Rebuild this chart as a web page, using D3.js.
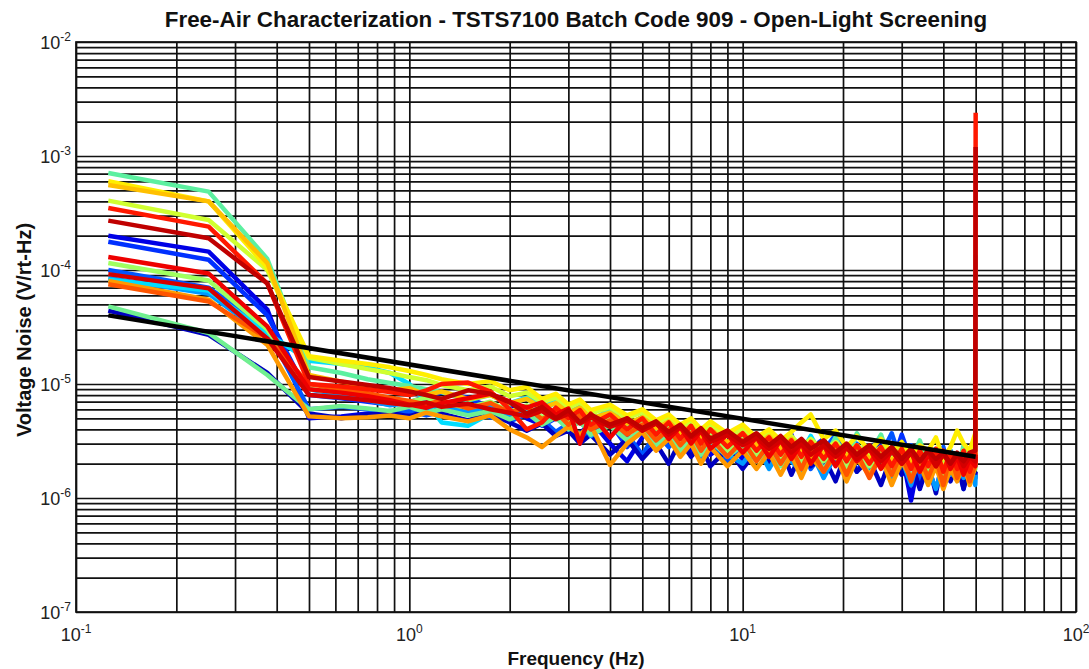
<!DOCTYPE html>
<html>
<head>
<meta charset="utf-8">
<script src="https://cdn.jsdelivr.net/npm/d3@7"></script>
<style>
  body { margin: 0; background: #fff; }
  svg { display: block; font-family: "Liberation Sans", Arial, sans-serif; }
</style>
</head>
<body>
<div id="chart"></div>
<script>
// frequency bins (Hz)
const freqHz = [0.125, 0.25, 0.375, 0.5, 0.625, 0.75, 0.875, 1, 1.125, 1.25, 1.5, 1.75,
  2, 2.25, 2.5, 2.75, 3, 3.25, 3.5, 4, 4.5, 5, 5.5, 6, 6.5, 7, 7.5, 8, 9, 10, 11, 12,
  13, 14, 15, 16, 17.5, 19, 20.5, 22, 24, 26, 28, 30, 32, 34, 36, 38, 40, 42, 44, 46,
  48, 49.875, 50];

// voltage noise per device, in uV/rt-Hz
const dev01 = [200, 145, 45, 5, 5.2, 5.5, 5.8, 5.6, 6.0, 6.4, 5.9, 5.2, 6.8, 5.0, 4.4, 5.6, 4.1, 3.6, 4.8, 3.0, 2.1, 3.4, 4.6, 2.9, 3.8, 2.6, 3.4, 2.4, 3.1, 2.2, 3.3, 2.0, 2.9, 3.6, 2.1, 2.8, 1.9, 2.6, 1.6, 2.7, 2.0, 3.1, 1.8, 2.5, 0.95, 2.4, 1.5, 2.2, 1.7, 2.6, 1.6, 2.3, 1.4, 2.0, 2.2];
const dev02 = [177, 123, 40, 8, 7.5, 7.0, 6.6, 6.9, 7.8, 8.4, 7.6, 6.2, 5.4, 6.1, 4.3, 5.0, 4.4, 5.3, 3.9, 4.6, 2.8, 4.2, 3.3, 4.5, 2.7, 3.6, 2.5, 3.9, 2.6, 3.2, 2.3, 3.5, 2.2, 3.0, 1.9, 2.7, 3.3, 2.0, 2.9, 1.7, 2.6, 3.4, 1.9, 3.6, 2.1, 2.8, 1.6, 2.5, 1.3, 2.4, 1.9, 2.7, 1.5, 2.1, 2.4];
const dev03 = [100, 70, 30, 6, 6.3, 6.0, 5.5, 5.8, 5.3, 5.7, 6.2, 5.1, 4.7, 5.4, 4.9, 3.8, 4.5, 3.3, 4.1, 6.6, 3.6, 2.4, 3.7, 2.8, 3.5, 4.2, 2.6, 3.3, 2.1, 3.0, 2.7, 1.9, 3.4, 2.4, 3.1, 1.8, 2.6, 3.6, 2.2, 3.0, 1.7, 2.4, 3.7, 2.0, 2.9, 1.4, 2.5, 1.8, 2.8, 1.5, 2.3, 1.2, 2.6, 1.9, 2.0];
const dev04 = [44, 27, 12.5, 5.5, 5.0, 5.4, 5.6, 5.2, 5.8, 5.5, 4.8, 5.6, 4.6, 3.9, 4.5, 3.5, 3.9, 3.0, 3.6, 2.4, 3.3, 2.2, 3.0, 2.0, 3.2, 2.3, 2.9, 1.9, 2.7, 1.8, 2.6, 2.0, 2.8, 1.6, 2.5, 1.9, 2.3, 1.4, 2.6, 1.7, 2.2, 1.3, 2.4, 1.6, 2.1, 1.2, 2.0, 1.1, 2.3, 1.4, 2.0, 1.2, 1.9, 1.5, 1.7];
const dev05 = [85, 62, 26, 9, 8.0, 7.2, 6.5, 6.8, 6.0, 6.6, 5.7, 6.4, 5.2, 5.9, 4.6, 5.3, 4.0, 4.8, 3.5, 4.4, 3.2, 3.9, 2.7, 3.6, 2.5, 3.4, 2.3, 3.1, 2.4, 2.0, 2.9, 1.8, 2.7, 2.1, 1.7, 2.6, 1.5, 2.4, 1.9, 2.8, 1.6, 2.3, 1.4, 2.2, 1.3, 2.5, 1.8, 1.2, 2.1, 1.6, 2.4, 1.5, 1.9, 1.3, 1.6];
const dev06 = [82, 66, 28, 16, 15, 14, 12.5, 10, 7.0, 4.6, 4.3, 5.5, 6.8, 7.6, 6.4, 7.0, 5.6, 6.3, 5.0, 5.6, 4.3, 5.1, 3.9, 4.6, 3.6, 4.3, 3.3, 4.0, 3.0, 3.7, 2.6, 3.4, 2.3, 3.1, 2.5, 3.5, 2.2, 2.9, 2.0, 2.7, 1.9, 2.6, 1.8, 2.8, 2.0, 2.5, 1.7, 2.4, 1.9, 2.6, 1.6, 2.3, 2.0, 2.6, 135];
const dev07 = [710, 487, 125, 14, 12.5, 11.0, 10.2, 9.6, 9.0, 8.5, 7.2, 8.0, 6.6, 7.5, 5.8, 6.9, 5.4, 6.2, 4.8, 5.9, 4.3, 5.2, 3.8, 4.8, 3.5, 4.4, 3.1, 4.0, 2.9, 3.8, 2.7, 3.5, 2.5, 3.3, 2.3, 3.0, 2.2, 3.4, 2.0, 3.7, 2.4, 3.6, 1.9, 2.8, 2.2, 3.2, 2.0, 2.7, 1.8, 2.5, 1.7, 2.9, 2.1, 3.3, 4.5];
const dev08 = [48, 28, 12, 6, 6.4, 6.1, 5.8, 6.3, 5.6, 6.0, 5.3, 5.8, 4.9, 5.6, 4.4, 5.1, 4.0, 4.7, 3.6, 4.3, 3.2, 4.0, 2.9, 3.6, 2.6, 3.4, 2.4, 3.2, 2.3, 2.9, 2.1, 2.8, 1.9, 2.6, 2.0, 2.7, 1.8, 2.5, 1.7, 2.4, 1.6, 2.3, 1.9, 2.6, 1.5, 2.2, 1.7, 2.4, 1.4, 2.1, 1.6, 2.3, 1.5, 1.8, 2.1];
const dev09 = [115, 81, 30, 9, 8.5, 8.0, 7.4, 7.0, 7.6, 6.8, 6.2, 7.0, 5.7, 6.5, 5.1, 5.9, 4.6, 5.5, 4.2, 5.0, 3.7, 4.6, 3.4, 4.2, 3.0, 3.9, 2.8, 3.6, 2.6, 3.3, 2.4, 3.1, 2.2, 2.9, 2.0, 2.7, 2.1, 2.8, 1.8, 2.6, 1.9, 2.5, 1.7, 2.4, 1.8, 2.6, 1.6, 2.3, 1.5, 2.2, 1.7, 2.0, 1.4, 2.1, 2.3];
const dev10 = [406, 275, 100, 17, 15, 13.5, 12.5, 11.5, 10.8, 9.8, 8.8, 9.5, 7.8, 8.4, 6.9, 7.6, 6.2, 6.9, 5.5, 6.3, 5.0, 5.7, 4.5, 5.2, 4.1, 4.8, 3.8, 4.4, 3.5, 4.1, 3.2, 3.8, 3.0, 3.5, 2.8, 3.3, 2.6, 3.1, 2.5, 2.9, 2.4, 2.8, 2.2, 2.7, 2.1, 2.6, 2.0, 2.5, 1.9, 2.4, 2.0, 2.6, 1.9, 2.3, 2.5];
const dev11 = [600, 400, 105, 17.5, 16, 15, 14, 13, 12, 11, 10, 10.6, 8.8, 9.4, 7.4, 8.2, 6.6, 7.3, 5.9, 6.6, 5.3, 6.0, 4.8, 5.4, 4.4, 5.0, 4.0, 4.7, 3.7, 4.4, 3.4, 4.0, 3.2, 3.8, 4.6, 5.4, 3.3, 3.9, 2.8, 3.5, 2.6, 3.3, 2.5, 3.1, 2.3, 2.9, 2.6, 3.4, 2.2, 2.8, 3.9, 3.0, 2.6, 3.7, 3.0];
const dev12 = [557, 400, 115, 12, 10.5, 9.5, 8.8, 9.2, 8.0, 8.6, 7.4, 8.0, 6.8, 7.4, 6.2, 6.8, 5.6, 6.2, 5.0, 5.6, 4.5, 5.1, 4.1, 4.7, 3.7, 4.3, 3.4, 4.0, 3.1, 3.7, 2.9, 3.5, 2.7, 3.3, 2.5, 3.1, 2.4, 3.0, 2.3, 2.9, 2.2, 2.8, 2.1, 2.7, 2.0, 2.6, 1.9, 2.5, 1.8, 2.4, 1.7, 2.3, 1.8, 2.2, 2.4];
const dev13 = [80, 55, 22, 5.2, 5.0, 5.1, 5.3, 5.0, 5.6, 5.2, 4.7, 5.3, 4.0, 3.4, 2.8, 3.5, 4.2, 3.6, 4.4, 1.95, 3.0, 3.8, 2.6, 3.3, 2.3, 3.0, 2.0, 2.8, 1.9, 2.6, 1.8, 2.5, 1.6, 2.4, 1.5, 2.3, 1.7, 2.4, 1.4, 2.2, 1.6, 2.3, 1.3, 2.1, 1.5, 2.0, 1.3, 1.9, 1.2, 1.8, 1.4, 2.0, 1.3, 1.9, 8.7];
const dev14 = [75, 53, 25, 10, 9.0, 8.3, 7.6, 7.1, 6.6, 7.2, 6.1, 6.8, 5.6, 6.3, 4.9, 5.7, 4.4, 5.3, 4.0, 4.8, 3.6, 4.4, 3.2, 4.0, 2.9, 3.7, 2.6, 3.4, 2.3, 3.2, 2.1, 3.0, 2.0, 2.8, 1.8, 2.7, 1.7, 2.6, 1.6, 2.5, 1.5, 2.4, 1.6, 2.5, 1.4, 2.3, 1.5, 2.2, 1.3, 2.4, 1.5, 2.1, 1.4, 2.0, 2.2];
const dev15 = [350, 240, 76, 10, 9.5, 9.0, 8.5, 8.0, 8.8, 10.0, 10.3, 8.6, 6.0, 4.0, 4.6, 6.2, 5.0, 5.9, 4.4, 5.4, 4.0, 5.0, 3.6, 4.6, 3.3, 4.3, 3.0, 4.0, 2.8, 3.7, 2.6, 3.4, 2.4, 3.2, 2.3, 3.1, 2.2, 3.0, 2.1, 2.9, 2.0, 2.8, 1.9, 2.7, 1.8, 2.6, 1.9, 2.7, 1.7, 2.5, 1.8, 2.6, 1.7, 2.4, 2400];
const dev16 = [130, 93, 32, 9, 8.4, 7.8, 7.2, 6.6, 6.2, 6.8, 7.5, 8.2, 7.0, 6.2, 6.9, 5.4, 6.1, 3.0, 5.5, 3.4, 5.0, 3.9, 4.6, 3.3, 4.2, 3.0, 3.9, 2.7, 3.6, 2.5, 3.4, 2.3, 3.2, 2.2, 3.0, 2.0, 2.9, 1.9, 2.8, 2.1, 2.7, 1.8, 2.6, 2.0, 2.5, 1.7, 2.4, 1.9, 2.6, 1.8, 2.3, 1.6, 2.2, 1.9, 2.3];
const dev17 = [92, 69, 25, 8, 7.6, 7.2, 6.8, 6.5, 6.9, 6.3, 6.7, 6.0, 5.6, 5.2, 5.8, 4.9, 5.5, 4.5, 5.1, 4.2, 4.8, 3.9, 4.5, 3.6, 4.2, 3.4, 3.9, 3.1, 3.6, 2.9, 3.4, 2.7, 3.2, 2.5, 3.0, 2.4, 2.9, 2.3, 2.8, 2.2, 2.7, 2.1, 2.6, 2.0, 2.5, 2.1, 2.6, 1.9, 2.4, 2.0, 2.5, 1.9, 2.3, 2.1, 2.4];
const dev18 = [271, 190, 76, 11.5, 10.5, 9.8, 9.2, 8.6, 8.0, 7.4, 8.8, 8.2, 6.9, 5.5, 6.3, 5.0, 5.9, 4.6, 5.4, 4.4, 5.0, 4.1, 4.7, 3.8, 4.4, 3.5, 4.1, 3.3, 3.9, 3.1, 3.7, 2.9, 3.5, 2.8, 3.3, 2.7, 3.2, 2.5, 3.0, 2.4, 2.9, 2.3, 2.8, 2.2, 2.7, 2.1, 2.6, 2.2, 2.5, 2.0, 2.4, 2.1, 2.5, 2.6, 1200];

const devices = [dev01, dev02, dev03, dev04, dev05, dev06, dev07, dev08, dev09,
  dev10, dev11, dev12, dev13, dev14, dev15, dev16, dev17, dev18];
const deviceColors = ['#0000e6', '#0030ff', '#0055ff', '#0000c0', '#0099ff', '#00ddff',
  '#5cf0a0', '#70f090', '#a0ff60', '#d0ff30', '#ffee00', '#ffc000', '#ff9900',
  '#ff5500', '#ff1800', '#ee0000', '#d40000', '#c00000'];

// limit line (uV/rt-Hz)
const limitFreq = [0.125, 50];
const limitNoise = [40, 2.3];

const xDecades = [0.1, 1, 10, 100];
const yDecades = [1e-7, 1e-6, 1e-5, 1e-4, 1e-3, 1e-2];

const W = 1089, H = 669;
const margin = { top: 42, right: 13, bottom: 57, left: 76 };
const width = W - margin.left - margin.right;
const height = H - margin.top - margin.bottom;

const svg = d3.select('#chart').append('svg')
  .attr('width', W).attr('height', H);

const g = svg.append('g')
  .attr('transform', `translate(${margin.left},${margin.top})`);

const x = d3.scaleLog().domain([0.1, 100]).range([0, width]);
const y = d3.scaleLog().domain([1e-7, 1e-2]).range([height, 0]);

// grid (major + minor, all black like the original)
g.append('g')
  .attr('class', 'x-grid')
  .attr('transform', `translate(0,${height})`)
  .call(d3.axisBottom(x).ticks(10).tickSize(-height).tickFormat(''))
  .call(a => a.select('.domain').remove())
  .selectAll('line').attr('stroke', '#111').attr('stroke-width', 1.7);

g.append('g')
  .attr('class', 'y-grid')
  .call(d3.axisLeft(y).ticks(10).tickSize(-width).tickFormat(''))
  .call(a => a.select('.domain').remove())
  .selectAll('line').attr('stroke', '#111').attr('stroke-width', 1.7);

// traces
svg.append('clipPath').attr('id', 'plotclip')
  .append('rect').attr('width', width).attr('height', height);

const line = d3.line()
  .x(d => x(d[0]))
  .y(d => y(d[1] * 1e-6));

const traces = g.append('g').attr('clip-path', 'url(#plotclip)');

traces.selectAll('.trace')
  .data(devices)
  .join('path')
  .attr('class', 'trace')
  .attr('d', d => line(d3.zip(freqHz, d)))
  .attr('fill', 'none')
  .attr('stroke', (d, i) => deviceColors[i])
  .attr('stroke-width', 4.5)
  .attr('stroke-linejoin', 'round');

traces.append('path')
  .attr('d', line(d3.zip(limitFreq, limitNoise)))
  .attr('fill', 'none')
  .attr('stroke', '#000')
  .attr('stroke-width', 4.5);

// frame
g.append('rect')
  .attr('width', width).attr('height', height)
  .attr('fill', 'none').attr('stroke', '#111').attr('stroke-width', 1.7);

// tick labels with superscripts
const expOf = v => Math.round(Math.log10(v));

const xl = g.append('g').attr('class', 'x-labels')
  .selectAll('text').data(xDecades).join('text')
  .attr('x', d => x(d))
  .attr('y', height + 29)
  .attr('text-anchor', 'middle')
  .attr('font-size', 18)
  .attr('fill', '#222');
xl.append('tspan').text('10');
xl.append('tspan').attr('dy', -8).attr('font-size', 12).text(d => expOf(d));

const yl = g.append('g').attr('class', 'y-labels')
  .selectAll('text').data(yDecades).join('text')
  .attr('x', -5)
  .attr('y', d => y(d) + 7)
  .attr('text-anchor', 'end')
  .attr('font-size', 18)
  .attr('fill', '#222');
yl.append('tspan').text('10');
yl.append('tspan').attr('dy', -8).attr('font-size', 12).text(d => expOf(d));

// title and axis labels
svg.append('text')
  .attr('x', margin.left + width / 2)
  .attr('y', 27)
  .attr('text-anchor', 'middle')
  .attr('font-size', 22.4)
  .attr('font-weight', 'bold')
  .attr('fill', '#111')
  .text('Free-Air Characterization - TSTS7100 Batch Code 909 - Open-Light Screening');

svg.append('text')
  .attr('x', margin.left + width / 2)
  .attr('y', 665)
  .attr('text-anchor', 'middle')
  .attr('font-size', 19)
  .attr('font-weight', 'bold')
  .attr('fill', '#111')
  .text('Frequency (Hz)');

svg.append('text')
  .attr('transform', `translate(31,330) rotate(-90)`)
  .attr('text-anchor', 'middle')
  .attr('font-size', 20)
  .attr('font-weight', 'bold')
  .attr('fill', '#111')
  .text('Voltage Noise (V/rt-Hz)');
</script>
</body>
</html>
